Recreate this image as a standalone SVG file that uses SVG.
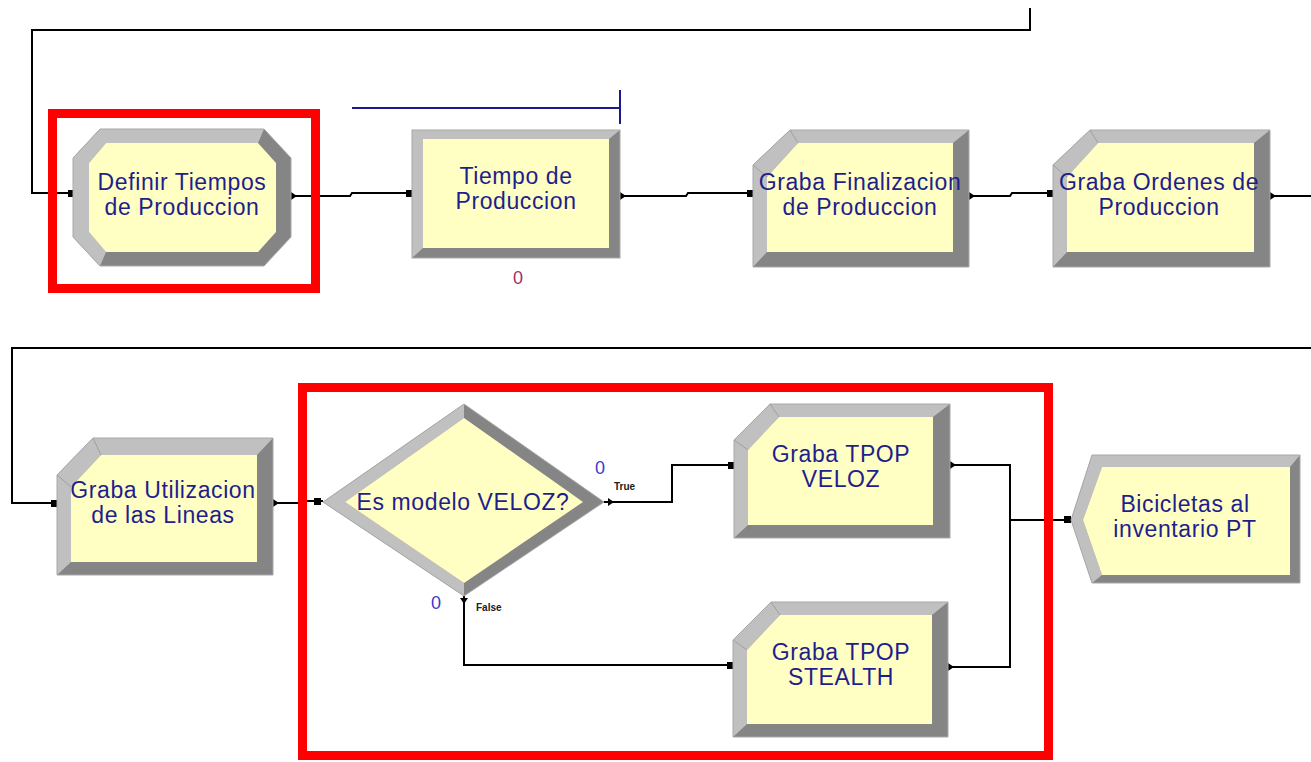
<svg xmlns="http://www.w3.org/2000/svg" width="1311" height="762" viewBox="0 0 1311 762">
<style>
.bg{fill:#ffffff}
.light{fill:#c0c0c0}
.dark{fill:#858585}
.face{fill:#ffffc4}
.rim{fill:none;stroke:#a8a8a8;stroke-width:1}
.lbl{font-family:"Liberation Sans",Arial,sans-serif;font-size:23px;letter-spacing:0.6px;fill:#1e1e8c;text-anchor:middle}
.cnt{font-family:"Liberation Sans",Arial,sans-serif;font-size:18px;text-anchor:middle}
.tiny{font-family:"Liberation Sans",Arial,sans-serif;font-size:10px;font-weight:bold;fill:#202020}
.conn{fill:none;stroke:#000;stroke-width:2}
.hl{fill:none;stroke:#ff0000;stroke-width:9}
.port{fill:#000}
</style>
<rect class="bg" x="0" y="0" width="1311" height="762"/>

<g id="connectors">
  <polyline class="conn" points="1030,8 1030,30 32,30 32,193 74,193"/>
  <polyline class="conn" points="291,196 350,196 352,193 412,193"/>
  <polyline class="conn" points="620,196 686,196 688,193 753,193"/>
  <polyline class="conn" points="969,196 1010,196 1012,193 1053,193"/>
  <polyline class="conn" points="1270,196 1311,196"/>
  <polyline class="conn" points="1311,348 12,348 12,503 57,503"/>
  <polyline class="conn" points="273,503 298,503 300,501 323,501"/>
  <polyline class="conn" points="604,502 672,502 672,465 734,465"/>
  <polyline class="conn" points="464,596 464,665 733,665"/>
  <polyline class="conn" points="950,465 1010,465 1010,520 1071,520"/>
  <polyline class="conn" points="948,667 1010,667 1010,520"/>
  <rect class="port" x="68" y="190" width="6" height="7"/>
  <rect class="port" x="406" y="190" width="6" height="7"/>
  <rect class="port" x="747" y="190" width="6" height="7"/>
  <rect class="port" x="1047" y="190" width="6" height="7"/>
  <rect class="port" x="51" y="500" width="6" height="7"/>
  <rect class="port" x="314" y="498" width="7" height="7"/>
  <rect class="port" x="728" y="462" width="6" height="7"/>
  <rect class="port" x="727" y="662" width="6" height="7"/>
  <rect class="port" x="1064" y="516" width="7" height="7"/>
  <polygon class="port" points="291,192 297,196 291,200"/>
  <polygon class="port" points="620,192 626,196 620,200"/>
  <polygon class="port" points="969,192 975,196 969,200"/>
  <polygon class="port" points="1270,192 1276,196 1270,200"/>
  <polygon class="port" points="273,499 279,503 273,507"/>
  <polygon class="port" points="608,498 614,502 608,506"/>
  <polygon class="port" points="460,598 464,604 468,598"/>
  <polygon class="port" points="950,461 956,465 950,469"/>
  <polygon class="port" points="948,663 954,667 948,671"/>
</g>

<g id="queue-tiempo">
  <line x1="352" y1="108" x2="620" y2="108" stroke="#1a1a8c" stroke-width="2"/>
  <line x1="620" y1="90" x2="620" y2="124" stroke="#1a1a8c" stroke-width="2"/>
</g>

<g id="definir-tiempos">
  <polygon class="dark" points="100,129 264,129 291,158 291,237 264,266 100,266 73,237 73,158"/>
  <polygon class="light" points="264,129 100,129 73,158 73,237 100,266 106,252 89,232 89,163 106,143 258,143"/>
  <polygon class="face" points="106,143 258,143 276,163 276,232 258,252 106,252 89,232 89,163"/>
  <polygon class="rim" points="100,129 264,129 291,158 291,237 264,266 100,266 73,237 73,158"/>
  <text class="lbl" x="182" y="190">Definir Tiempos</text>
  <text class="lbl" x="182" y="215">de Produccion</text>
</g>

<g id="tiempo-produccion">
  <rect class="dark" x="412" y="130" width="208" height="128"/>
  <polygon class="light" points="412,130 620,130 609,139 423,139 423,248 412,258"/>
  <rect class="face" x="423" y="139" width="186" height="109"/>
  <rect class="rim" x="412" y="130" width="208" height="128"/>
  <text class="lbl" x="516" y="184">Tiempo de</text>
  <text class="lbl" x="516" y="209">Produccion</text>
  <text class="cnt" x="518" y="284" fill="#993366">0</text>
</g>

<g id="graba-finalizacion">
  <polygon class="dark" points="790,130 969,130 969,267 753,267 753,165"/>
  <polygon class="light" points="969,130 790,130 753,165 753,267 767,252 767,177 798,143 953,143"/>
  <polygon class="face" points="798,143 953,143 953,252 767,252 767,177"/>
  <polygon class="rim" points="790,130 969,130 969,267 753,267 753,165"/>
  <line x1="790" y1="130" x2="798" y2="143" stroke="#a0a0a0"/>
  <line x1="753" y1="165" x2="767" y2="177" stroke="#a0a0a0"/>
  <text class="lbl" x="860" y="190">Graba Finalizacion</text>
  <text class="lbl" x="860" y="215">de Produccion</text>
</g>

<g id="graba-ordenes">
  <polygon class="dark" points="1090,130 1270,130 1270,267 1053,267 1053,165"/>
  <polygon class="light" points="1270,130 1090,130 1053,165 1053,267 1067,252 1067,177 1098,143 1254,143"/>
  <polygon class="face" points="1098,143 1254,143 1254,252 1067,252 1067,177"/>
  <polygon class="rim" points="1090,130 1270,130 1270,267 1053,267 1053,165"/>
  <line x1="1090" y1="130" x2="1098" y2="143" stroke="#a0a0a0"/>
  <line x1="1053" y1="165" x2="1067" y2="177" stroke="#a0a0a0"/>
  <text class="lbl" x="1159" y="190">Graba Ordenes de</text>
  <text class="lbl" x="1159" y="215">Produccion</text>
</g>

<g id="graba-utilizacion">
  <polygon class="dark" points="93,438 273,438 273,575 57,575 57,475"/>
  <polygon class="light" points="273,438 93,438 57,475 57,575 71,562 71,487 101,455 257,455"/>
  <polygon class="face" points="101,455 257,455 257,562 71,562 71,487"/>
  <polygon class="rim" points="93,438 273,438 273,575 57,575 57,475"/>
  <line x1="93" y1="438" x2="101" y2="455" stroke="#a0a0a0"/>
  <line x1="57" y1="475" x2="71" y2="487" stroke="#a0a0a0"/>
  <text class="lbl" x="163" y="498">Graba Utilizacion</text>
  <text class="lbl" x="163" y="523">de las Lineas</text>
</g>

<g id="es-modelo-veloz">
  <polygon class="dark" points="323,502 464,404 604,502 464,596"/>
  <polygon class="light" points="464,404 323,502 464,596 464,583 345,502 464,418"/>
  <polygon class="face" points="345,502 464,418 583,502 464,583"/>
  <polygon class="rim" points="323,502 464,404 604,502 464,596"/>
  <text class="lbl" x="463" y="510">Es modelo VELOZ?</text>
  <text class="cnt" x="600" y="474" fill="#3a3acc">0</text>
  <text class="tiny" x="614" y="490">True</text>
  <text class="cnt" x="436" y="609" fill="#3a3acc">0</text>
  <text class="tiny" x="476" y="611">False</text>
</g>

<g id="graba-tpop-veloz">
  <polygon class="dark" points="770,404 950,404 950,538 734,538 734,440"/>
  <polygon class="light" points="950,404 770,404 734,440 734,538 748,525 748,450 779,417 933,417"/>
  <polygon class="face" points="779,417 933,417 933,525 748,525 748,450"/>
  <polygon class="rim" points="770,404 950,404 950,538 734,538 734,440"/>
  <line x1="770" y1="404" x2="779" y2="417" stroke="#a0a0a0"/>
  <line x1="734" y1="440" x2="748" y2="450" stroke="#a0a0a0"/>
  <text class="lbl" x="841" y="462">Graba TPOP</text>
  <text class="lbl" x="841" y="487">VELOZ</text>
</g>

<g id="graba-tpop-stealth">
  <polygon class="dark" points="771,602 948,602 948,737 733,737 733,640"/>
  <polygon class="light" points="948,602 771,602 733,640 733,737 747,724 747,650 780,615 932,615"/>
  <polygon class="face" points="780,615 932,615 932,724 747,724 747,650"/>
  <polygon class="rim" points="771,602 948,602 948,737 733,737 733,640"/>
  <line x1="771" y1="602" x2="780" y2="615" stroke="#a0a0a0"/>
  <line x1="733" y1="640" x2="747" y2="650" stroke="#a0a0a0"/>
  <text class="lbl" x="841" y="660">Graba TPOP</text>
  <text class="lbl" x="841" y="685">STEALTH</text>
</g>

<g id="bicicletas-inventario">
  <polygon class="dark" points="1092,455 1300,455 1300,583 1092,583 1071,520"/>
  <polygon class="light" points="1300,455 1092,455 1071,520 1092,583 1102,575 1083,520 1102,467 1290,467"/>
  <polygon class="face" points="1102,467 1290,467 1290,575 1102,575 1083,520"/>
  <polygon class="rim" points="1092,455 1300,455 1300,583 1092,583 1071,520"/>
  <text class="lbl" x="1185" y="512">Bicicletas al</text>
  <text class="lbl" x="1185" y="537">inventario PT</text>
</g>

<g id="highlights">
  <rect class="hl" x="52.5" y="113.5" width="263" height="175"/>
  <rect class="hl" x="302.5" y="387.5" width="746" height="368"/>
</g>
</svg>
